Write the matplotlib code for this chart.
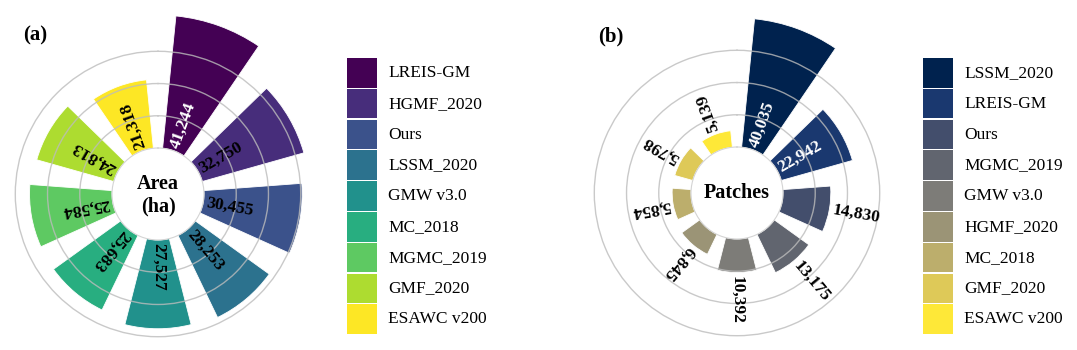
import numpy as np
import matplotlib
matplotlib.use('Agg')
import matplotlib.pyplot as plt
from matplotlib.patches import Rectangle

plt.rcParams['font.family'] = ['Liberation Serif', 'DejaVu Serif']

# panel (a): mangrove area per product
area_names = ['LREIS-GM', 'HGMF_2020', 'Ours', 'LSSM_2020', 'GMW v3.0',
              'MC_2018', 'MGMC_2019', 'GMF_2020', 'ESAWC v200']
area_values = [41244, 32750, 30455, 28253, 27527, 25683, 25584, 24813, 21318]

# panel (b): number of patches per product
patch_names = ['LSSM_2020', 'LREIS-GM', 'Ours', 'MGMC_2019', 'GMW v3.0',
               'HGMF_2020', 'MC_2018', 'GMF_2020', 'ESAWC v200']
patch_values = [40035, 22942, 14830, 13175, 10392, 6845, 5854, 5798, 5139]

W, H = 1077, 350
R_AX = 183      # polar axes radius (px)
HOLE = 46       # empty centre radius (px)
RMAX = 42500
scale = (R_AX - HOLE) / RMAX

fig = plt.figure(figsize=(W / 100, H / 100), dpi=100)


def rose(cx, cy, values, colors, text_colors, inside):
    ax = fig.add_axes([(cx - R_AX) / W, (H - cy - R_AX) / H, 2 * R_AX / W, 2 * R_AX / H],
                      projection='polar')
    ax.set_theta_zero_location('N')
    ax.set_theta_direction(-1)
    ax.set_ylim(0, RMAX)
    ax.set_rorigin(-HOLE / scale)
    deg = 20 + 40 * np.arange(len(values))
    theta = np.deg2rad(deg)
    ax.bar(theta, values, width=np.deg2rad(28.5), bottom=0, color=colors,
           edgecolor='white', linewidth=0.6)
    ax.set_xticks([])
    ax.set_yticks([10000, 20000, 30000])
    ax.set_yticklabels([])
    ax.tick_params(axis='y', length=0)
    ax.grid(color='#bcbcbc', lw=1.0, alpha=0.8)
    ax.spines['polar'].set_visible(False)
    # inner spine visibility is reset at draw time, so recolour it instead
    ax.spines['inner'].set_color('#d4d4d4')
    ax.spines['inner'].set_linewidth(0.8)
    ax.patch.set_alpha(0)
    for t, d, v, tc, ins in zip(theta, deg, values, text_colors, inside):
        r = 1000 if ins else v + 1000
        ax.text(t, r, f'{v:,}', rotation=90 - d, rotation_mode='anchor',
                ha='left', va='center', fontsize=12.5, fontweight='bold', color=tc)
    return ax


area_colors = plt.cm.viridis(np.linspace(0, 1, 9))
patch_colors = plt.cm.cividis(np.linspace(0, 1, 9))

rose(158, 194, area_values, area_colors,
     ['white'] + ['black'] * 8, [True] * 9)
rose(737, 193, patch_values, patch_colors,
     ['white', 'white'] + ['black'] * 7, [v > 20000 for v in patch_values])

# overlay in pixel coordinates for legends and labels
ov = fig.add_axes([0, 0, 1, 1])
ov.set_xlim(0, W)
ov.set_ylim(H, 0)
ov.axis('off')
ov.patch.set_alpha(0)

ov.text(35, 35, '(a)', fontsize=15, fontweight='bold', ha='center', va='center')
ov.text(611, 36, '(b)', fontsize=15, fontweight='bold', ha='center', va='center')
ov.text(158, 195, 'Area\n(ha)', fontsize=14.5, fontweight='bold', ha='center',
        va='center', linespacing=1.15)
ov.text(737, 193, 'Patches', fontsize=14.5, fontweight='bold', ha='center', va='center')


def legend(x0, names, colors):
    for i, (n, c) in enumerate(zip(names, colors)):
        y = 58 + i * 30.8
        ov.add_patch(Rectangle((x0, y), 29.5, 29.5, color=c, lw=0))
        ov.text(x0 + 41, y + 15, n, fontsize=12.5, ha='left', va='center')


legend(347, area_names, area_colors)
legend(923, patch_names, patch_colors)

fig.savefig('out.png', dpi=100)
